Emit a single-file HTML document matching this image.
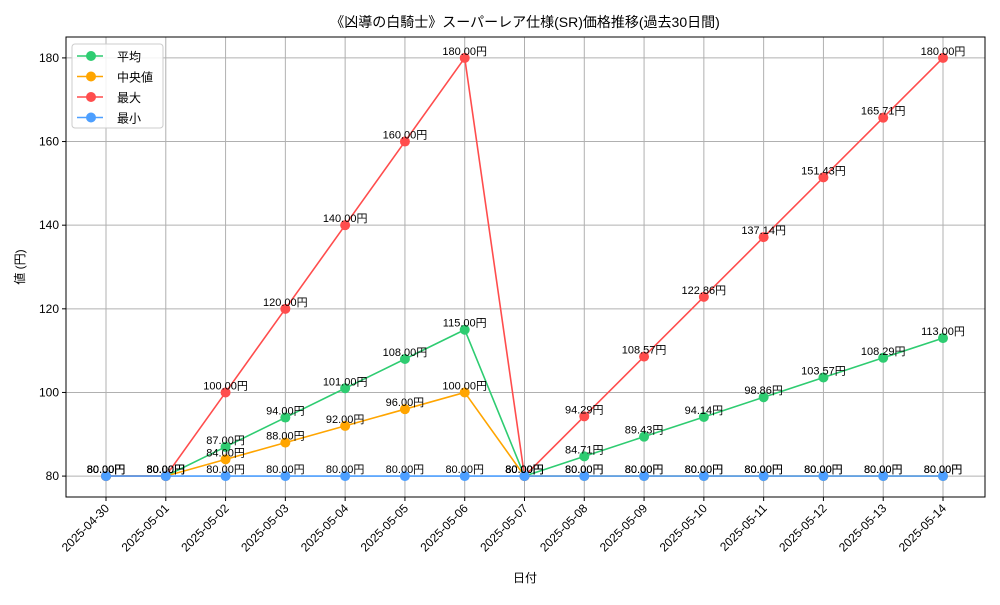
<!DOCTYPE html>
<html><head><meta charset="utf-8"><style>
body{margin:0;background:#fff}
svg text{font-family:"Liberation Sans","Noto Sans CJK JP",sans-serif;fill:#000}
</style></head><body>
<svg id="chart" width="1000" height="600" viewBox="0 0 1000 600" xmlns="http://www.w3.org/2000/svg">
<rect width="1000" height="600" fill="#fff"/>
<text x="525" y="27" font-size="14" text-anchor="middle">《凶導の白騎士》スーパーレア仕様(SR)価格推移(過去30日間)</text>
<g id="grid"></g><g id="axes"></g><g id="series"></g><g id="labels"></g>
<rect x="66" y="37" width="919" height="460" fill="none" stroke="#000" stroke-width="1"/>
<text x="525" y="582" font-size="12" text-anchor="middle">日付</text>
<text transform="translate(24,267) rotate(-90)" font-size="12" text-anchor="middle">値 (円)</text>
<g id="legend">
<rect x="72" y="44" width="91" height="84" rx="3" fill="#fff" fill-opacity="0.85" stroke="#ccc"/>
</g>
</svg>
<script>
const dates=["2025-04-30","2025-05-01","2025-05-02","2025-05-03","2025-05-04","2025-05-05","2025-05-06","2025-05-07","2025-05-08","2025-05-09","2025-05-10","2025-05-11","2025-05-12","2025-05-13","2025-05-14"];
const avgVals=[80,80,87,94,101,108,115,80,84.71,89.43,94.14,98.86,103.57,108.29,113];
const medVals=[80,80,84,88,92,96,100,80,80,80,80,80,80,80,80];
const maxVals=[80,80,100,120,140,160,180,80,94.29,108.57,122.86,137.14,151.43,165.71,180];
const minVals=[80,80,80,80,80,80,80,80,80,80,80,80,80,80,80];
const yTicks=[80,100,120,140,160,180];
const seriesNames=["平均","中央値","最大","最小"];
const NS="http://www.w3.org/2000/svg";
const L=66,R=985,T=37,B=497,yMin=75,yMax=185;
const x=i=>106+i*(943-106)/(dates.length-1);
const y=v=>B-(v-yMin)/(yMax-yMin)*(B-T);
function mk(tag,a,p){const e=document.createElementNS(NS,tag);for(const k in a)e.setAttribute(k,a[k]);document.getElementById(p).appendChild(e);return e;}
dates.forEach((d,i)=>{
 const g=mk("line",{x1:x(i),x2:x(i),y1:T,y2:B,stroke:"#b0b0b0","stroke-width":1},"grid");
 
 
 mk("line",{x1:x(i),x2:x(i),y1:B,y2:B+4,stroke:"#000"},"axes");
 const t=mk("text",{x:0,y:0,"font-size":12,"text-anchor":"end",transform:`translate(${x(i)+4},${B+12}) rotate(-45)`},"axes");
 t.textContent=d;
 
 
});
yTicks.forEach(v=>{
 const g=mk("line",{x1:L,x2:R,y1:y(v),y2:y(v),stroke:"#b0b0b0","stroke-width":1},"grid");
 
 
 mk("line",{x1:L-4,x2:L,y1:y(v),y2:y(v),stroke:"#000"},"axes");
 const t=mk("text",{x:L-7,y:y(v)+4,"font-size":12,"text-anchor":"end"},"axes");
 t.textContent=v;
 
 
});
const series=[[avgVals,"#2ecc71","avg"],[medVals,"#ffa500","median"],[maxVals,"#ff4d4d","max"],[minVals,"#4d9fff","min"]];
series.forEach(([vals,c,n],si)=>{
 const p=mk("polyline",{points:vals.map((v,i)=>x(i)+","+y(v)).join(" "),fill:"none",stroke:c,"stroke-width":1.6},"series");
 
 
 vals.forEach((v,i)=>{
  const m=mk("circle",{cx:x(i),cy:y(v),r:5,fill:c},"series");
  
  
  const t=mk("text",{x:x(i),y:y(v)-3,"font-size":11,"text-anchor":"middle"},"labels");
  t.textContent=v.toFixed(2)+"円";
  
  
 });
 const ly=56+si*20.5;
 mk("line",{x1:77,x2:103,y1:ly,y2:ly,stroke:c,"stroke-width":1.6},"legend");
 mk("circle",{cx:91,cy:ly,r:5,fill:c},"legend");
 const lt=mk("text",{x:117,y:ly+5,"font-size":12},"legend");
 lt.textContent=seriesNames[si];
 
 
});
</script>
</body></html>
